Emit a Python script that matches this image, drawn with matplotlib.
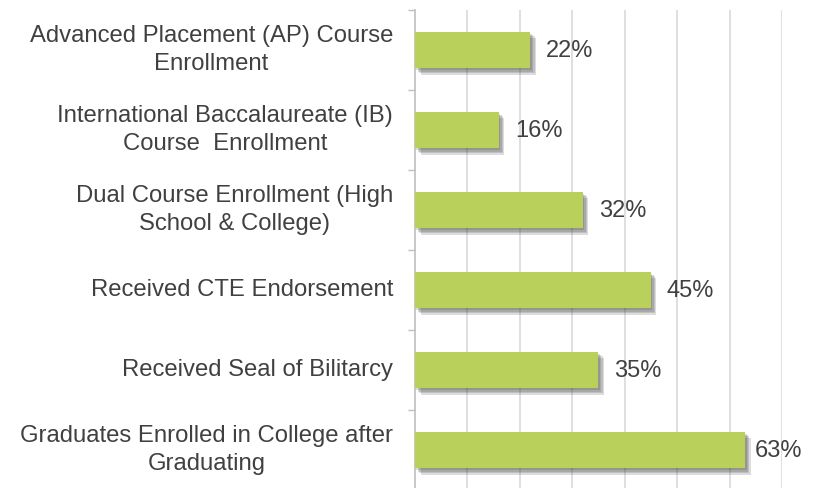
import matplotlib.pyplot as plt
import matplotlib.patheffects as pe

categories = [
    'Advanced Placement (AP) Course\nEnrollment',
    'International Baccalaureate (IB)\nCourse  Enrollment',
    'Dual Course Enrollment (High\nSchool & College)',
    'Received CTE Endorsement',
    'Received Seal of Bilitarcy',
    'Graduates Enrolled in College after\nGraduating',
]
values = [22, 16, 32, 45, 35, 63]
labels = ['22%', '16%', '32%', '45%', '35%', '63%']

plt.rcParams['font.family'] = ['Liberation Sans', 'DejaVu Sans']

fig = plt.figure(figsize=(8.17, 4.88), dpi=100)
ax = fig.add_axes([415 / 817, -2 / 488, 367 / 817, 480 / 488])

pos = list(range(len(categories)))
bars = ax.barh(pos, values, height=0.46, color='#b9d05a', zorder=3)
# soft drop shadow: a few offset layers
shadow = [pe.SimplePatchShadow(offset=(d, -d - 0.5), shadow_rgbFace='#404040', alpha=0.18)
          for d in (1, 2, 3, 4)]
for b in bars:
    b.set_path_effects(shadow + [pe.Normal()])

for p, v, lab in zip(pos, values, labels):
    off = 7 if v > 60 else 11.5
    ax.annotate(lab, (v, p), xytext=(off, -1), textcoords='offset points',
                ha='left', va='center', fontsize=17, color='#404040', zorder=4)

ax.set_xlim(0, 70)
ax.set_ylim(len(categories) - 0.5, -0.5)
ax.set_xticks(range(10, 71, 10))
ax.set_xticklabels([])
ax.tick_params(axis='x', length=0)
ax.grid(axis='x', color='#d9d9d9', linewidth=1.2, zorder=0)

ax.set_yticks([p - 0.5 for p in pos] + [len(categories) - 0.5])
ax.set_yticklabels([])
ax.tick_params(axis='y', direction='out', length=5, color='#bfbfbf', width=1)
for p, c in zip(pos, categories):
    ax.text(-22 / 5.24, p, c, ha='right', va='center', multialignment='center',
            fontsize=17.2, color='#404040', linespacing=1.35)

for s in ['top', 'right', 'bottom']:
    ax.spines[s].set_visible(False)
ax.spines['left'].set_color('#bfbfbf')
ax.spines['left'].set_linewidth(1.2)

fig.savefig('out.png', dpi=100)
